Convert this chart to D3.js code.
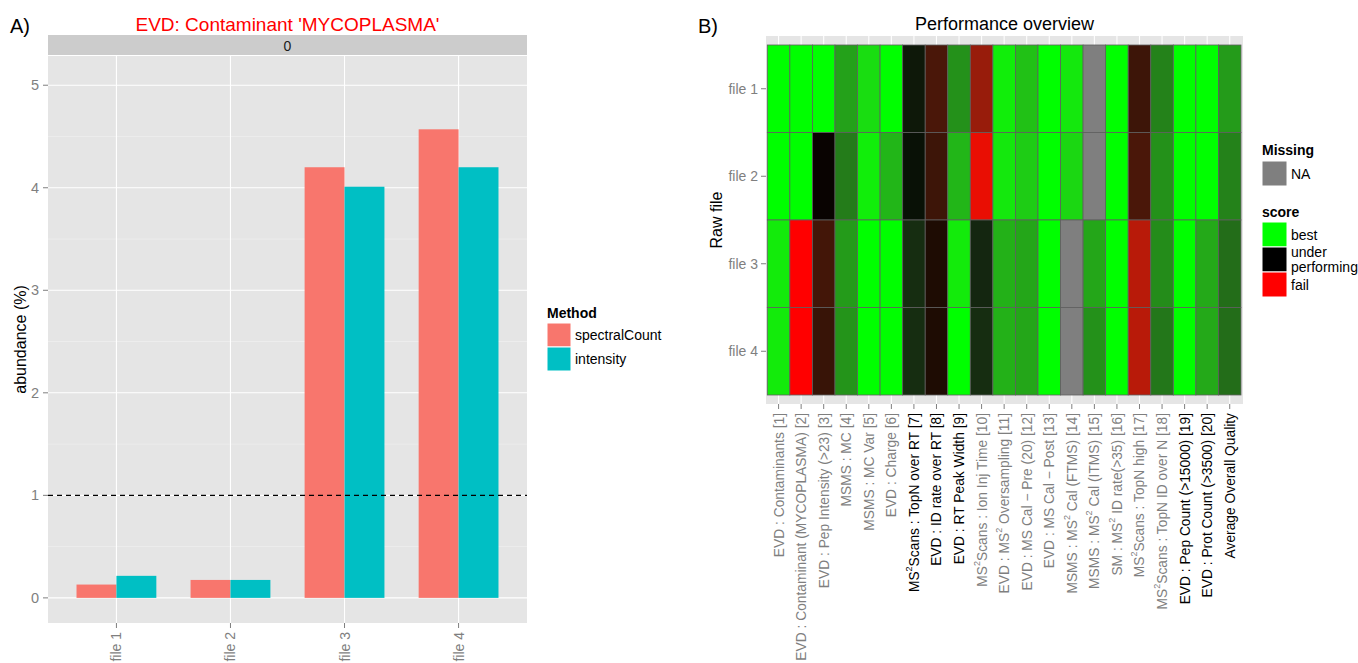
<!DOCTYPE html>
<html>
<head>
<meta charset="utf-8">
<script src="https://cdn.jsdelivr.net/npm/d3@7"></script>
<style>
  body { margin: 0; background: #fff; }
  svg { display: block; font-family: "Liberation Sans", Arial, sans-serif; }
</style>
</head>
<body>
<div id="chart"></div>
<script>
// --- 1. DATA ---
const files = ["file 1", "file 2", "file 3", "file 4"];
const methods = ["spectralCount", "intensity"];
const spectralCount = [0.13, 0.175, 4.2, 4.57];
const intensity = [0.215, 0.175, 4.01, 4.2];
const threshold = 1;
const abundanceTicks = [0, 1, 2, 3, 4, 5];

const rawFiles = ["file 1", "file 2", "file 3", "file 4"];
const metrics = [
  "EVD : Contaminants [1]",
  "EVD : Contaminant (MYCOPLASMA) [2]",
  "EVD : Pep Intensity (>23) [3]",
  "MSMS : MC [4]",
  "MSMS : MC Var [5]",
  "EVD : Charge [6]",
  "MS^2Scans : TopN over RT [7]",
  "EVD : ID rate over RT [8]",
  "EVD : RT Peak Width [9]",
  "MS^2Scans : Ion Inj Time [10]",
  "EVD : MS^2 Oversampling [11]",
  "EVD : MS Cal \u2212 Pre (20) [12]",
  "EVD : MS Cal \u2212 Post [13]",
  "MSMS : MS^2 Cal (FTMS) [14]",
  "MSMS : MS^2 Cal (ITMS) [15]",
  "SM : MS^2 ID rate(>35) [16]",
  "MS^2Scans : TopN high [17]",
  "MS^2Scans : TopN ID over N [18]",
  "EVD : Pep Count (>15000) [19]",
  "EVD : Prot Count (>3500) [20]",
  "Average Overall Quality"
];
// metrics printed in black instead of grey
const highlighted = [7, 8, 9, 19, 20, 21];

// score per raw file (0 = fail, 0.5 = under performing, 1 = best, null = NA)
const scoreFile1 = [1, 1, 1, 0.83, 0.94, 1, 0.54, 0.35, 0.80, 0.19, 0.97, 0.89, 1, 0.96, null, 1, 0.38, 0.77, 1, 1, 0.82];
const scoreFile2 = [1, 1, 0.49, 0.76, 0.97, 0.87, 0.525, 0.38, 0.87, 0.04, 0.96, 0.91, 1, 0.93, null, 1, 0.35, 0.80, 1, 1, 0.77];
const scoreFile3 = [0.965, 0, 0.365, 0.82, 1, 1, 0.59, 0.455, 0.965, 0.575, 0.86, 0.84, 1, null, 0.84, 1, 0.13, 0.79, 1, 0.845, 0.73];
const scoreFile4 = [0.965, 0, 0.39, 0.805, 1, 1, 0.59, 0.455, 1, 0.59, 0.86, 0.84, 1, null, 0.80, 1, 0.13, 0.75, 1, 0.845, 0.73];
const scores = [scoreFile1, scoreFile2, scoreFile3, scoreFile4];

const scoreLegend = ["best", "under performing", "fail"];
const scoreLegendValues = [1, 0.5, 0];

// --- 2. SVG ---
const W = 1358, H = 663;
const svg = d3.select("#chart").append("svg")
  .attr("width", W).attr("height", H);
svg.append("rect").attr("width", W).attr("height", H).attr("fill", "#fff");

const greyText = "#7f7f7f";

// ============ PANEL A ============
const pA = { left: 48, right: 527, top: 56, bottom: 623, stripTop: 35 };

svg.append("text").attr("x", 10).attr("y", 33)
  .attr("font-size", 20).text("A)");

svg.append("text")
  .attr("x", (pA.left + pA.right) / 2).attr("y", 31)
  .attr("text-anchor", "middle").attr("font-size", 19).attr("fill", "#ff0000")
  .text("EVD: Contaminant 'MYCOPLASMA'");

// strip
svg.append("rect")
  .attr("x", pA.left).attr("y", pA.stripTop)
  .attr("width", pA.right - pA.left).attr("height", pA.top - pA.stripTop - 1)
  .attr("fill", "#cccccc");
svg.append("text")
  .attr("x", (pA.left + pA.right) / 2).attr("y", (pA.stripTop + pA.top) / 2)
  .attr("text-anchor", "middle").attr("dominant-baseline", "central")
  .attr("font-size", 14).attr("fill", "#1a1a1a").text("0");

const x = d3.scalePoint().domain(files).range([pA.left, pA.right]).padding(0.6);
const y = d3.scaleLinear().domain([-0.245, 5.285]).range([pA.bottom, pA.top]);
const step = x.step();
const color = d3.scaleOrdinal().domain(methods).range(["#F8766D", "#00BFC4"]);

const gA = svg.append("g");
gA.append("rect")
  .attr("x", pA.left).attr("y", pA.top)
  .attr("width", pA.right - pA.left).attr("height", pA.bottom - pA.top)
  .attr("fill", "#e5e5e5");

// minor grid
gA.selectAll(".minor").data(abundanceTicks.map(d => d + 0.5).filter(d => y(d) > pA.top))
  .enter().append("line")
  .attr("x1", pA.left).attr("x2", pA.right)
  .attr("y1", d => y(d)).attr("y2", d => y(d))
  .attr("stroke", "#f2f2f2").attr("stroke-width", 0.6);
// major grid
gA.selectAll(".hmajor").data(abundanceTicks).enter().append("line")
  .attr("x1", pA.left).attr("x2", pA.right)
  .attr("y1", d => y(d)).attr("y2", d => y(d))
  .attr("stroke", "#fff").attr("stroke-width", 1.1);
gA.selectAll(".vmajor").data(files).enter().append("line")
  .attr("x1", d => x(d)).attr("x2", d => x(d))
  .attr("y1", pA.top).attr("y2", pA.bottom)
  .attr("stroke", "#fff").attr("stroke-width", 1.1);

// bars
const barW = step * 0.35;
const bars = [];
files.forEach((f, i) => {
  bars.push({ file: f, method: "spectralCount", value: spectralCount[i], k: 0 });
  bars.push({ file: f, method: "intensity", value: intensity[i], k: 1 });
});
gA.selectAll(".bar").data(bars).enter().append("rect")
  .attr("x", d => x(d.file) - barW + d.k * barW)
  .attr("width", barW)
  .attr("y", d => y(d.value))
  .attr("height", d => y(0) - y(d.value))
  .attr("fill", d => color(d.method));

// threshold
gA.append("line")
  .attr("x1", pA.left).attr("x2", pA.right)
  .attr("y1", y(threshold)).attr("y2", y(threshold))
  .attr("stroke", "#000").attr("stroke-width", 1.2)
  .attr("stroke-dasharray", "5,4");

// axes
const yAxisA = svg.append("g");
yAxisA.selectAll("line").data(abundanceTicks).enter().append("line")
  .attr("x1", pA.left - 5).attr("x2", pA.left)
  .attr("y1", d => y(d)).attr("y2", d => y(d))
  .attr("stroke", greyText).attr("stroke-width", 1);
yAxisA.selectAll("text").data(abundanceTicks).enter().append("text")
  .attr("x", pA.left - 9).attr("y", d => y(d))
  .attr("text-anchor", "end").attr("dominant-baseline", "central")
  .attr("font-size", 14.5).attr("fill", greyText).text(d => d);

const xAxisA = svg.append("g");
xAxisA.selectAll("line").data(files).enter().append("line")
  .attr("x1", d => x(d)).attr("x2", d => x(d))
  .attr("y1", pA.bottom).attr("y2", pA.bottom + 5)
  .attr("stroke", greyText);
xAxisA.selectAll("text").data(files).enter().append("text")
  .attr("transform", d => `translate(${x(d)},${pA.bottom + 9}) rotate(-90)`)
  .attr("text-anchor", "end").attr("dominant-baseline", "central")
  .attr("font-size", 14).attr("fill", greyText).text(d => d);

svg.append("text")
  .attr("transform", `translate(20,${(pA.top + pA.bottom) / 2}) rotate(-90)`)
  .attr("text-anchor", "middle").attr("dominant-baseline", "central")
  .attr("font-size", 16).text("abundance (%)");

// legend A
const legA = svg.append("g").attr("transform", "translate(547,0)");
legA.append("text").attr("x", 0).attr("y", 318)
  .attr("font-size", 14).attr("font-weight", "bold").text("Method");
legA.selectAll("rect").data(methods).enter().append("rect")
  .attr("x", 0).attr("y", (d, i) => 323 + i * 24)
  .attr("width", 24).attr("height", 24)
  .attr("fill", d => color(d)).attr("stroke", "#fff").attr("stroke-width", 1);
legA.selectAll(".lbl").data(methods).enter().append("text")
  .attr("x", 28).attr("y", (d, i) => 335 + i * 24)
  .attr("dominant-baseline", "central").attr("font-size", 14).text(d => d);

// ============ PANEL B ============
const pB = { left: 766, right: 1243, top: 36, bottom: 404, tileLeft: 767.3, tileRight: 1241, tileTop: 45, tileBottom: 395 };

svg.append("text").attr("x", 698).attr("y", 33)
  .attr("font-size", 20).text("B)");
svg.append("text")
  .attr("x", (pB.left + pB.right) / 2).attr("y", 30)
  .attr("text-anchor", "middle").attr("font-size", 18)
  .text("Performance overview");

const xb = d3.scaleBand().domain(metrics).range([pB.tileLeft, pB.tileRight]);
const yb = d3.scaleBand().domain(rawFiles).range([pB.tileTop, pB.tileBottom]);
const fill = d3.scaleLinear().domain([0, 0.5, 1])
  .range(["#ff0000", "#000000", "#00ff00"]).interpolate(d3.interpolateLab);
const naColor = "#7f7f7f";

const gB = svg.append("g");
gB.append("rect")
  .attr("x", pB.left).attr("y", pB.top)
  .attr("width", pB.right - pB.left).attr("height", pB.bottom - pB.top)
  .attr("fill", "#e5e5e5");
gB.selectAll(".vg").data(metrics).enter().append("line")
  .attr("x1", d => xb(d) + xb.bandwidth() / 2).attr("x2", d => xb(d) + xb.bandwidth() / 2)
  .attr("y1", pB.top).attr("y2", pB.bottom)
  .attr("stroke", "#fff").attr("stroke-width", 1.1);

const cells = [];
rawFiles.forEach((f, r) => metrics.forEach((m, c) => cells.push({ file: f, metric: m, score: scores[r][c] })));
gB.selectAll(".cell").data(cells).enter().append("rect")
  .attr("x", d => xb(d.metric)).attr("y", d => yb(d.file))
  .attr("width", xb.bandwidth()).attr("height", yb.bandwidth())
  .attr("fill", d => d.score === null ? naColor : fill(d.score))
  .attr("stroke", "#5f5f5f").attr("stroke-width", 0.8);

// y axis B
const yAxisB = svg.append("g");
yAxisB.selectAll("line").data(rawFiles).enter().append("line")
  .attr("x1", pB.left - 5).attr("x2", pB.left)
  .attr("y1", d => yb(d) + yb.bandwidth() / 2).attr("y2", d => yb(d) + yb.bandwidth() / 2)
  .attr("stroke", greyText);
yAxisB.selectAll("text").data(rawFiles).enter().append("text")
  .attr("x", pB.left - 8).attr("y", d => yb(d) + yb.bandwidth() / 2)
  .attr("text-anchor", "end").attr("dominant-baseline", "central")
  .attr("font-size", 14).attr("fill", greyText).text(d => d);

svg.append("text")
  .attr("transform", `translate(716,${(pB.top + pB.bottom) / 2}) rotate(-90)`)
  .attr("text-anchor", "middle").attr("dominant-baseline", "central")
  .attr("font-size", 16).text("Raw file");

// x axis B
const xAxisB = svg.append("g");
xAxisB.selectAll("line").data(metrics).enter().append("line")
  .attr("x1", d => xb(d) + xb.bandwidth() / 2).attr("x2", d => xb(d) + xb.bandwidth() / 2)
  .attr("y1", pB.bottom).attr("y2", pB.bottom + 5)
  .attr("stroke", greyText);
xAxisB.selectAll("text").data(metrics).enter().append("text")
  .attr("transform", d => `translate(${xb(d) + xb.bandwidth() / 2},${pB.bottom + 9}) rotate(-90)`)
  .attr("text-anchor", "end").attr("dominant-baseline", "central")
  .attr("font-size", 13.8)
  .attr("fill", (d, i) => highlighted.includes(i + 1) ? "#000" : greyText)
  .each(function(d) {
    const t = d3.select(this);
    const parts = d.split("^2");
    t.append("tspan").text(parts[0]);
    if (parts.length > 1) {
      t.append("tspan").attr("dy", -5).attr("font-size", 9).text("2");
      t.append("tspan").attr("dy", 5).text(parts[1]);
    }
  });

// legend B
const legB = svg.append("g").attr("transform", "translate(1262,0)");
legB.append("text").attr("x", 0).attr("y", 155)
  .attr("font-size", 14).attr("font-weight", "bold").text("Missing");
legB.append("rect").attr("x", 0).attr("y", 161).attr("width", 25).attr("height", 25)
  .attr("fill", naColor).attr("stroke", "#fff");
legB.append("text").attr("x", 29).attr("y", 173.5)
  .attr("dominant-baseline", "central").attr("font-size", 14).text("NA");

legB.append("text").attr("x", 0).attr("y", 217)
  .attr("font-size", 14).attr("font-weight", "bold").text("score");
legB.selectAll(".key").data(scoreLegendValues).enter().append("rect")
  .attr("x", 0).attr("y", (d, i) => 222 + i * 25)
  .attr("width", 25).attr("height", 25)
  .attr("fill", d => fill(d)).attr("stroke", "#fff");
legB.selectAll(".klbl").data(scoreLegend).enter().append("text")
  .attr("x", 29).attr("y", (d, i) => 234.5 + i * 25)
  .attr("font-size", 14)
  .each(function(d) {
    const words = d.split(" ");
    const t = d3.select(this);
    if (words.length === 1) {
      t.attr("dominant-baseline", "central").text(d);
    } else {
      t.append("tspan").attr("x", 29).attr("dy", -3).text(words[0]);
      t.append("tspan").attr("x", 29).attr("dy", 15).text(words[1]);
    }
  });
</script>
</body>
</html>
